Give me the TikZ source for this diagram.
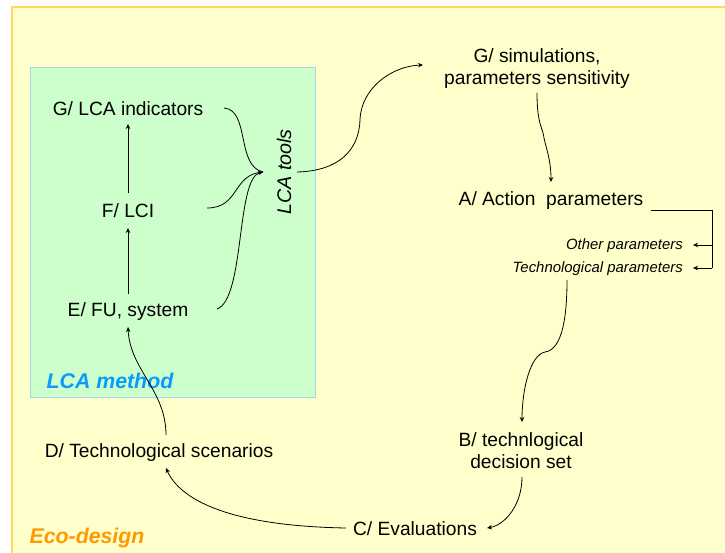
\documentclass[tikz,border=0pt]{standalone}
\usepackage{fontspec}
\setmainfont{Liberation Sans}
\usetikzlibrary{arrows.meta}
\definecolor{ecofill}{HTML}{FFFFCC}
\definecolor{ecoline}{HTML}{FFD95A}
\definecolor{lcafill}{HTML}{CCFFCC}
\definecolor{lcaline}{HTML}{A6D4F2}
\definecolor{lcablue}{HTML}{0A99FF}
\definecolor{ecoorange}{HTML}{FF9900}
\tikzset{
  lbl/.style={font=\fontsize{19.2}{22}\selectfont, inner sep=0pt, align=center},
  small/.style={font=\fontsize{14.9}{17}\selectfont\itshape, inner sep=0pt},
  title/.style={font=\fontsize{21.3}{24}\selectfont\bfseries\itshape, inner sep=0pt},
  arr/.style={-{Stealth[length=5pt,width=4.5pt]}, line width=0.8pt},
  ln/.style={line width=0.8pt}
}
\begin{document}
\begin{tikzpicture}[x=1pt,y=-1pt]
\useasboundingbox (0,0) rectangle (725,553);
\fill[white] (0,0) rectangle (725,553);
% eco-design frame
\fill[ecofill] (12,7) rectangle (730,560);
\draw[ecoline, line width=2pt] (12,560) -- (12,7) -- (730,7);
% LCA method box
\draw[lcaline, fill=lcafill, line width=1pt] (30,68) rectangle (315,397);

\node[title, text=lcablue] (lcam) at (110,381) {LCA method};
\node[title, text=ecoorange] (eco) at (87,538) {Eco-design};

\node[lbl] (gi) at (128,109) {G/ LCA indicators};
\node[lbl] (f) at (128,211) {F/ LCI};
\node[lbl] (e) at (128,312) {E/ FU, system};
\node[lbl, font=\fontsize{19.7}{22}\selectfont\itshape, rotate=90] (tools) at (284,172) {LCA tools};
\coordinate (m) at (263,172);

\node[lbl] (gs) at (537,69) {G/ simulations,\\parameters sensitivity};
\node[lbl] (a) at (551,201) {A/ Action\ \ parameters};
\node[small, anchor=east] (op) at (683,246) {Other parameters};
\node[small, anchor=east] (tp) at (683,269) {Technological parameters};
\node[lbl] (b) at (521,451) {B/ technlogical\\decision set};
\node[lbl] (c) at (415,529) {C/ Evaluations};
\node[lbl] (d) at (159,453) {D/ Technological scenarios};

% LCA internal arrows
\draw[arr] ([yshift=18pt]e.center) -- ([yshift=-17pt]f.center);
\draw[arr] ([yshift=18pt]f.center) -- ([yshift=-15pt]gi.center);

% converging curves
\draw[ln] ([xshift=96pt,yshift=1pt]gi.center) .. controls +(26,2) and (236,166) .. (m);
\draw[ln] ([xshift=79pt,yshift=3pt]f.center) .. controls +(33,0) and (232,174) .. (m);
\draw[arr] ([xshift=89pt,yshift=3pt]e.center) .. controls +(28,-10) and (236,178) .. (m);

% tools -> G/ simulations
\draw[arr] ([xshift=13pt]tools.center) .. controls +(42,-1) and (359,150) .. (360,120)
  .. controls (361,88) and (392,66) .. ([xshift=-114pt,yshift=4pt]gs.center);

% G/sim -> A
\draw[arr] ([yshift=-24pt]gs.center) .. controls +(0,32) and (543,128) .. (544,138)
  .. controls (546,148) and (551,160) .. ([yshift=19pt]a.center);

% bracket
\coordinate (br) at (712,210);
\draw[ln] ([xshift=100pt,yshift=-9pt]a.center) -- (br) -- (712,268);
\draw[arr] (712,245) -- ([xshift=10pt,yshift=1pt]op.east);
\draw[arr] (712,268) -- ([xshift=10pt,yshift=1pt]tp.east);

% tech params -> B
\draw[arr] ([xshift=-116pt,yshift=-11pt]tp.east) .. controls +(0,45) and (560,350) .. (545,352)
  .. controls (530,355) and (522,390) .. ([xshift=1pt,yshift=29pt]b.center);

% B -> C
\draw[arr] ([xshift=1pt,yshift=-26pt]b.center) .. controls +(0,28) and (505,525) .. ([xshift=72pt,yshift=1pt]c.center);

% C -> D
\draw[arr] ([xshift=-69pt,yshift=1pt]c.center) .. controls (230,526) and (180,500) .. ([xshift=7pt,yshift=-15pt]d.center);

% D -> E
\draw[arr] ([xshift=7pt,yshift=18pt]d.center) .. controls +(0,-45) and (130,370) .. ([yshift=-15pt]e.center);
\end{tikzpicture}
\end{document}
